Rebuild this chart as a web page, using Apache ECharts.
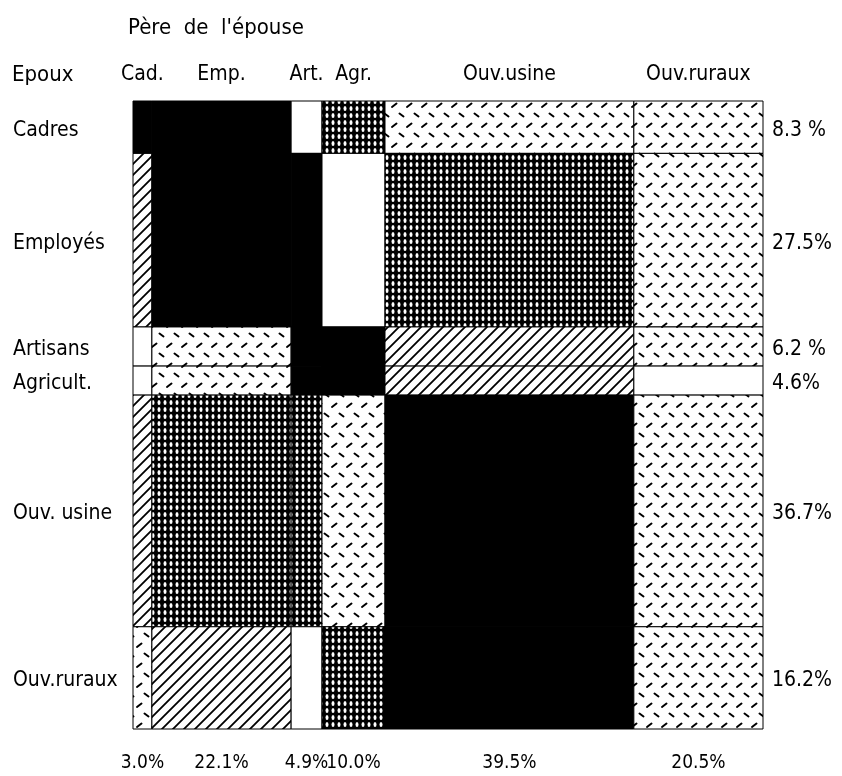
<!DOCTYPE html>
<html>
<head>
<meta charset="utf-8">
<script src="https://cdn.jsdelivr.net/npm/echarts@6/dist/echarts.min.js"></script>
<style>
html, body { margin: 0; background: #fff; }
#main { width: 842px; height: 776px; }
</style>
</head>
<body>
<div id="main"></div>
<script>
// père de l'épouse (colonnes)
var pereCats = ['Cad.', 'Emp.', 'Art.', 'Agr.', 'Ouv.usine', 'Ouv.ruraux'];
var pereShares = [3.0, 22.1, 4.9, 10.0, 39.5, 20.5];
var pereLabels = ['3.0%', '22.1%', '4.9%', '10.0%', '39.5%', '20.5%'];
// époux (lignes)
var epouxCats = ['Cadres', 'Employés', 'Artisans', 'Agricult.', 'Ouv. usine', 'Ouv.ruraux'];
var epouxShares = [8.3, 27.5, 6.2, 4.6, 36.7, 16.2];
var epouxLabels = ['8.3 %', '27.5%', '6.2 %', '4.6%', '36.7%', '16.2%'];
// 4 = noir, 3 = pointillé serré, 2 = hachures, 1 = tirets, 0 = blanc
var levels = [
    [4, 4, 0, 3, 1, 1],
    [2, 4, 4, 0, 3, 1],
    [0, 1, 4, 4, 2, 1],
    [0, 1, 4, 4, 2, 0],
    [2, 3, 3, 1, 4, 1],
    [1, 2, 0, 3, 4, 1]
];

function tile(w, h, draw) {
    var c = document.createElement('canvas');
    c.width = w; c.height = h;
    var ctx = c.getContext('2d');
    draw(ctx, w, h);
    return { image: c, repeat: 'repeat' };
}

var fills = [
    '#fff',
    tile(15, 20, function (ctx) {
        ctx.fillStyle = '#fff'; ctx.fillRect(0, 0, 15, 20);
        ctx.strokeStyle = '#000'; ctx.lineWidth = 2; ctx.lineCap = 'round';
        ctx.beginPath();
        ctx.moveTo(2, 7); ctx.lineTo(6.5, 3.5);
        ctx.moveTo(9.5, 13.5); ctx.lineTo(13.5, 16.5);
        ctx.stroke();
    }),
    tile(11, 11, function (ctx, s) {
        ctx.fillStyle = '#fff'; ctx.fillRect(0, 0, s, s);
        ctx.strokeStyle = '#000'; ctx.lineWidth = 1.8;
        ctx.beginPath();
        ctx.moveTo(-1, s + 1); ctx.lineTo(s + 1, -1);
        ctx.moveTo(-1, 1); ctx.lineTo(1, -1);
        ctx.moveTo(s - 1, s + 1); ctx.lineTo(s + 1, s - 1);
        ctx.stroke();
    }),
    tile(6, 7, function (ctx) {
        ctx.fillStyle = '#000'; ctx.fillRect(0, 0, 6, 7);
        ctx.fillStyle = '#fff';
        ctx.beginPath();
        ctx.ellipse(3, 3.5, 1.5, 2.5, 0, 0, Math.PI * 2);
        ctx.fill();
    }),
    '#000'
];

function cumul(arr) {
    var out = [0];
    arr.forEach(function (v, i) { out.push(out[i] + v); });
    return out;
}
var xEdges = cumul(pereShares);
var yEdges = cumul(epouxShares);
var xMax = xEdges[xEdges.length - 1];
var yMax = yEdges[yEdges.length - 1];

var cells = [];
levels.forEach(function (row, j) {
    row.forEach(function (lv, i) {
        cells.push([xEdges[i], xEdges[i + 1], yEdges[j], yEdges[j + 1], lv]);
    });
});
var rowMids = epouxShares.map(function (v, j) { return [xMax / 2, (yEdges[j] + yEdges[j + 1]) / 2]; });
var colMids = pereShares.map(function (v, i) { return [(xEdges[i] + xEdges[i + 1]) / 2, yMax / 2]; });

var font = '"Liberation Sans Narrow", "DejaVu Sans Condensed", "Liberation Sans"';
function txt(x, y, text, size, align) {
    return {
        type: 'text', x: x, y: y,
        style: { text: text, fill: '#000', font: size + 'px ' + font, align: align, verticalAlign: 'middle' }
    };
}

var chart = echarts.init(document.getElementById('main'));
var option = {
    backgroundColor: '#fff',
    animation: false,
    grid: { left: 133, right: 79, top: 101, bottom: 47 },
    xAxis: { type: 'value', min: 0, max: xMax, show: false },
    yAxis: { type: 'value', min: 0, max: yMax, inverse: true, show: false },
    graphic: [
        txt(128, 28, 'Père  de  l\'épouse', 22, 'left'),
        txt(12, 75, 'Epoux', 22, 'left')
    ],
    series: [
        {
            type: 'custom',
            silent: true,
            data: cells,
            renderItem: function (params, api) {
                var p0 = api.coord([api.value(0), api.value(2)]);
                var p1 = api.coord([api.value(1), api.value(3)]);
                return {
                    type: 'rect',
                    shape: { x: p0[0], y: p0[1], width: p1[0] - p0[0], height: p1[1] - p0[1] },
                    style: { fill: fills[api.value(4)], stroke: '#000', lineWidth: 1 }
                };
            }
        },
        {
            type: 'custom',
            silent: true,
            data: rowMids,
            renderItem: function (params, api) {
                var y = api.coord([0, api.value(1)])[1];
                var xr = api.coord([xMax, 0])[0];
                var i = params.dataIndex;
                return {
                    type: 'group',
                    children: [
                        txt(13, y + 3, epouxCats[i], 21, 'left'),
                        txt(xr + 9, y + 3, epouxLabels[i], 21, 'left')
                    ]
                };
            }
        },
        {
            type: 'custom',
            silent: true,
            data: colMids,
            renderItem: function (params, api) {
                var x = api.coord([api.value(0), 0])[0];
                var yb = api.coord([0, yMax])[1];
                var i = params.dataIndex;
                return {
                    type: 'group',
                    children: [
                        txt(x, 75, pereCats[i], 21, 'center'),
                        txt(x, yb + 34, pereLabels[i], 19, 'center')
                    ]
                };
            }
        }
    ]
};
chart.setOption(option);
window.addEventListener('resize', function () { chart.resize(); });
</script>
</body>
</html>
